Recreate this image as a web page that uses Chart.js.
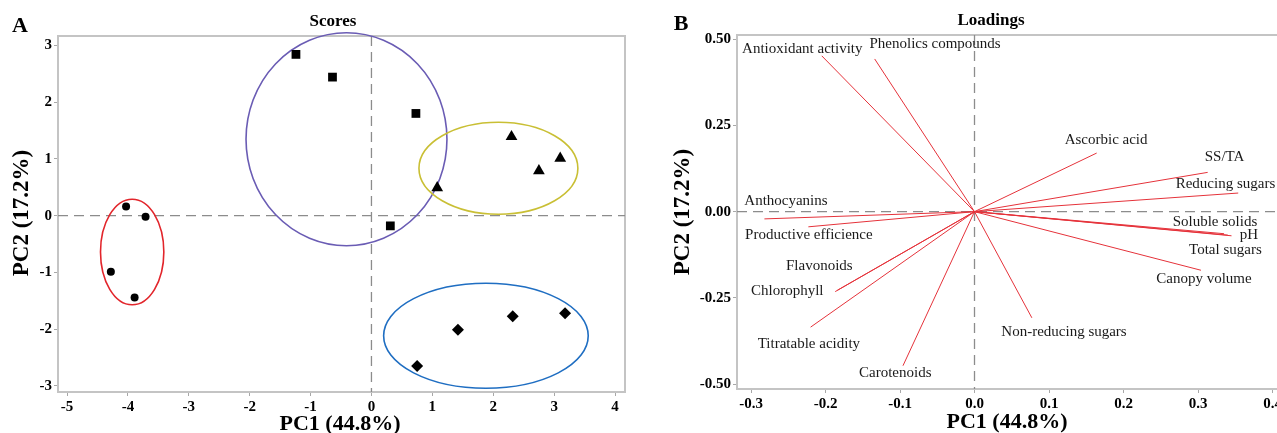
<!DOCTYPE html>
<html>
<head>
<meta charset="utf-8">
<script src="https://cdn.jsdelivr.net/npm/chart.js@4.4.1/dist/chart.umd.min.js"></script>
<style>
  html, body { margin: 0; padding: 0; background: #fff; overflow: hidden; }
  #wrap { position: relative; width: 1277px; height: 433px; overflow: hidden; }
  #scores { position: absolute; left: 0; top: 0; }
  #loadings { position: absolute; left: 640px; top: 0; }
</style>
</head>
<body>
<div id="wrap">
  <canvas id="scores" width="640" height="433"></canvas>
  <canvas id="loadings" width="660" height="433"></canvas>
</div>
<script>
// ---- Scores (PC1, PC2), one pair of arrays per group ----
const circlePC1 = [-4.03, -3.71, -4.28, -3.89];
const circlePC2 = [0.16, -0.02, -0.99, -1.44];
const squarePC1 = [-1.24, -0.64, 0.73, 0.31];
const squarePC2 = [2.84, 2.44, 1.80, -0.18];
const trianglePC1 = [1.08, 2.30, 2.75, 3.10];
const trianglePC2 = [0.49, 1.39, 0.79, 1.01];
const diamondPC1 = [0.75, 1.42, 2.32, 3.18];
const diamondPC2 = [-2.65, -2.01, -1.77, -1.72];

// group ellipses (centre, half axes) in score units
const ellipseCX = [-3.93, -0.41, 2.085, 1.88];
const ellipseCY = [-0.64, 1.345, 0.835, -2.115];
const ellipseRX = [0.52, 1.65, 1.305, 1.68];
const ellipseRY = [0.93, 1.875, 0.81, 0.925];

// ---- Loadings ----
const loadingNames = ['Antioxidant activity', 'Phenolics compounds', 'Ascorbic acid', 'SS/TA',
  'Reducing sugars', 'Anthocyanins', 'Soluble solids', 'pH', 'Total sugars', 'Canopy volume',
  'Productive efficience', 'Flavonoids', 'Chlorophyll', 'Titratable acidity', 'Carotenoids',
  'Non-reducing sugars'];
const loadingPC1 = [-0.205, -0.134, 0.164, 0.313, 0.354, -0.282, 0.335, 0.345, 0.340, 0.304,
  -0.223, -0.184, -0.187, -0.220, -0.096, 0.077];
const loadingPC2 = [0.452, 0.443, 0.170, 0.114, 0.054, -0.021, -0.064, -0.070, -0.068, -0.170,
  -0.044, -0.228, -0.232, -0.335, -0.447, -0.308];

const scoreTicksX = [-5, -4, -3, -2, -1, 0, 1, 2, 3, 4];
const scoreTicksY = [-3, -2, -1, 0, 1, 2, 3];
const loadTicksX = [-0.3, -0.2, -0.1, 0.0, 0.1, 0.2, 0.3, 0.4];
const loadTicksY = [-0.50, -0.25, 0.00, 0.25, 0.50];

// where each loading name sits (left edge, middle), in loading units
const labelAt = {
  'Antioxidant activity': [-0.312, 0.473], 'Phenolics compounds': [-0.141, 0.487],
  'Ascorbic acid': [0.121, 0.209], 'SS/TA': [0.309, 0.157], 'Reducing sugars': [0.270, 0.081],
  'Anthocyanins': [-0.309, 0.030], 'Soluble solids': [0.266, -0.029], 'pH': [0.356, -0.067],
  'Total sugars': [0.288, -0.110], 'Canopy volume': [0.244, -0.197],
  'Productive efficience': [-0.308, -0.069], 'Flavonoids': [-0.253, -0.159],
  'Chlorophyll': [-0.300, -0.231], 'Titratable acidity': [-0.291, -0.384],
  'Carotenoids': [-0.155, -0.467], 'Non-reducing sugars': [0.036, -0.348]
};

const SERIF = '"Liberation Serif", "Times New Roman", serif';
const ellipseColors = ['#e2252b', '#6a5cb4', '#c9bf34', '#1f6ec2'];
const loadingColor = '#e5323a';

function pts(xs, ys) { return xs.map((x, i) => ({ x: x, y: ys[i] })); }

function axis(ticksList, fmt, fixed) {
  return {
    type: 'linear',
    min: fixed.min, max: fixed.max,
    afterBuildTicks: s => { s.ticks = ticksList.map(v => ({ value: v })); },
    afterFit: s => {
      if (fixed.width) s.width = fixed.width;
      if (fixed.height) s.height = fixed.height;
      s.paddingLeft = 0; s.paddingRight = 0; s.paddingTop = 0; s.paddingBottom = 0;
    },
    border: { display: false },
    grid: { drawOnChartArea: false, drawTicks: true, tickLength: 4, tickColor: '#a8a8a8', tickWidth: 1 },
    ticks: {
      color: '#000', padding: 2, autoSkip: false, maxRotation: 0,
      font: { family: SERIF, size: 15, weight: 'bold' },
      callback: fmt
    }
  };
}

// frame, zero lines, titles
function decor(cfg) {
  return {
    id: 'decor',
    beforeDatasetsDraw(chart) {
      const { ctx, chartArea: a, scales } = chart;
      ctx.save();
      ctx.strokeStyle = '#c4c4c4';
      ctx.lineWidth = 2;
      ctx.strokeRect(a.left, a.top, a.right - a.left, a.bottom - a.top);
      ctx.strokeStyle = '#8c8c8c';
      ctx.lineWidth = 1.3;
      ctx.setLineDash([10, 6]);
      const x0 = scales.x.getPixelForValue(0), y0 = scales.y.getPixelForValue(0);
      ctx.beginPath();
      ctx.moveTo(a.left, y0); ctx.lineTo(a.right, y0);
      ctx.moveTo(x0, a.top); ctx.lineTo(x0, a.bottom);
      ctx.stroke();
      ctx.setLineDash([]);
      ctx.beginPath();
      ctx.restore();
      if (cfg.before) cfg.before(chart);
    },
    afterDraw(chart) {
      const { ctx } = chart;
      ctx.save();
      ctx.fillStyle = '#000';
      ctx.textBaseline = 'middle';
      ctx.textAlign = 'center';
      ctx.font = 'bold 22px ' + SERIF;
      ctx.fillText(cfg.letter, cfg.letterX, cfg.letterY);
      ctx.font = 'bold 17px ' + SERIF;
      ctx.fillText(cfg.title, cfg.titleX, cfg.titleY);
      ctx.font = 'bold 22px ' + SERIF;
      ctx.fillText('PC1 (44.8%)', cfg.xTitleX, cfg.xTitleY);
      ctx.translate(cfg.yTitleX, cfg.yTitleY);
      ctx.rotate(-Math.PI / 2);
      ctx.font = 'bold 23px ' + SERIF;
      ctx.fillText('PC2 (17.2%)', 0, 0);
      ctx.restore();
      if (cfg.after) cfg.after(chart);
    }
  };
}

const baseOptions = {
  responsive: false,
  animation: false,
  events: [],
  plugins: { legend: { display: false }, tooltip: { enabled: false }, colors: { enabled: false } }
};

// ---------- A: Scores ----------
new Chart(document.getElementById('scores'), {
  type: 'scatter',
  data: {
    datasets: [
      { data: pts(circlePC1, circlePC2), pointStyle: 'circle', pointRadius: 4 },
      { data: pts(squarePC1, squarePC2), pointStyle: 'rect', pointRadius: 6.2 },
      { data: pts(trianglePC1, trianglePC2), pointStyle: 'triangle', pointRadius: 6.8 },
      { data: pts(diamondPC1, diamondPC2), pointStyle: 'rectRot', pointRadius: 6 }
    ].map(d => Object.assign(d, { backgroundColor: '#000', borderColor: '#000', borderWidth: 0 }))
  },
  options: Object.assign({}, baseOptions, {
    layout: { padding: { top: 36, right: 15, left: 0, bottom: 0 } },
    scales: {
      x: axis(scoreTicksX, v => String(v), { min: -5.148, max: 4.164, height: 41 }),
      y: axis(scoreTicksY, v => String(v), { min: -3.106, max: 3.164, width: 58 })
    }
  }),
  plugins: [decor({
    letter: 'A', letterX: 20, letterY: 26,
    title: 'Scores', titleX: 333, titleY: 22,
    xTitleX: 340, xTitleY: 424, yTitleX: 22, yTitleY: 213,
    before(chart) {
      const { ctx, scales: { x, y } } = chart;
      ctx.save();
      ctx.lineWidth = 1.6;
      ellipseCX.forEach((cx, i) => {
        const px = x.getPixelForValue(cx), py = y.getPixelForValue(ellipseCY[i]);
        const rx = Math.abs(x.getPixelForValue(cx + ellipseRX[i]) - px);
        const ry = Math.abs(y.getPixelForValue(ellipseCY[i] + ellipseRY[i]) - py);
        ctx.strokeStyle = ellipseColors[i];
        ctx.beginPath();
        ctx.ellipse(px, py, rx, ry, 0, 0, Math.PI * 2);
        ctx.stroke();
      });
      ctx.beginPath();
      ctx.restore();
    }
  })]
});

// ---------- B: Loadings ----------
// each loading is a two-point line from the origin
new Chart(document.getElementById('loadings'), {
  type: 'line',
  data: {
    datasets: loadingNames.map((n, i) => ({
      label: n,
      data: [{ x: 0, y: 0 }, { x: loadingPC1[i], y: loadingPC2[i] }],
      pointRadius: 0, fill: false, tension: 0,
      borderColor: loadingColor, backgroundColor: loadingColor, borderWidth: 1
    }))
  },
  options: Object.assign({}, baseOptions, {
    layout: { padding: { top: 35, right: 12.6, left: 0, bottom: 0 } },
    scales: {
      x: axis(loadTicksX, v => v.toFixed(1), { min: -0.3188, max: 0.42, height: 44 }),
      y: axis(loadTicksY, v => v.toFixed(2), { min: -0.5145, max: 0.5125, width: 97 })
    }
  }),
  plugins: [decor({
    letter: 'B', letterX: 41, letterY: 24,
    title: 'Loadings', titleX: 351, titleY: 21,
    xTitleX: 367, xTitleY: 422, yTitleX: 43, yTitleY: 212,
    after(chart) {
      const { ctx, scales: { x, y } } = chart;
      ctx.save();
      ctx.fillStyle = '#1a1a1a';
      ctx.font = '15px ' + SERIF;
      ctx.textAlign = 'left';
      ctx.textBaseline = 'middle';
      loadingNames.forEach(n => {
        const p = labelAt[n];
        ctx.fillText(n, x.getPixelForValue(p[0]), y.getPixelForValue(p[1]));
      });
      ctx.restore();
    }
  })]
});
</script>
</body>
</html>
